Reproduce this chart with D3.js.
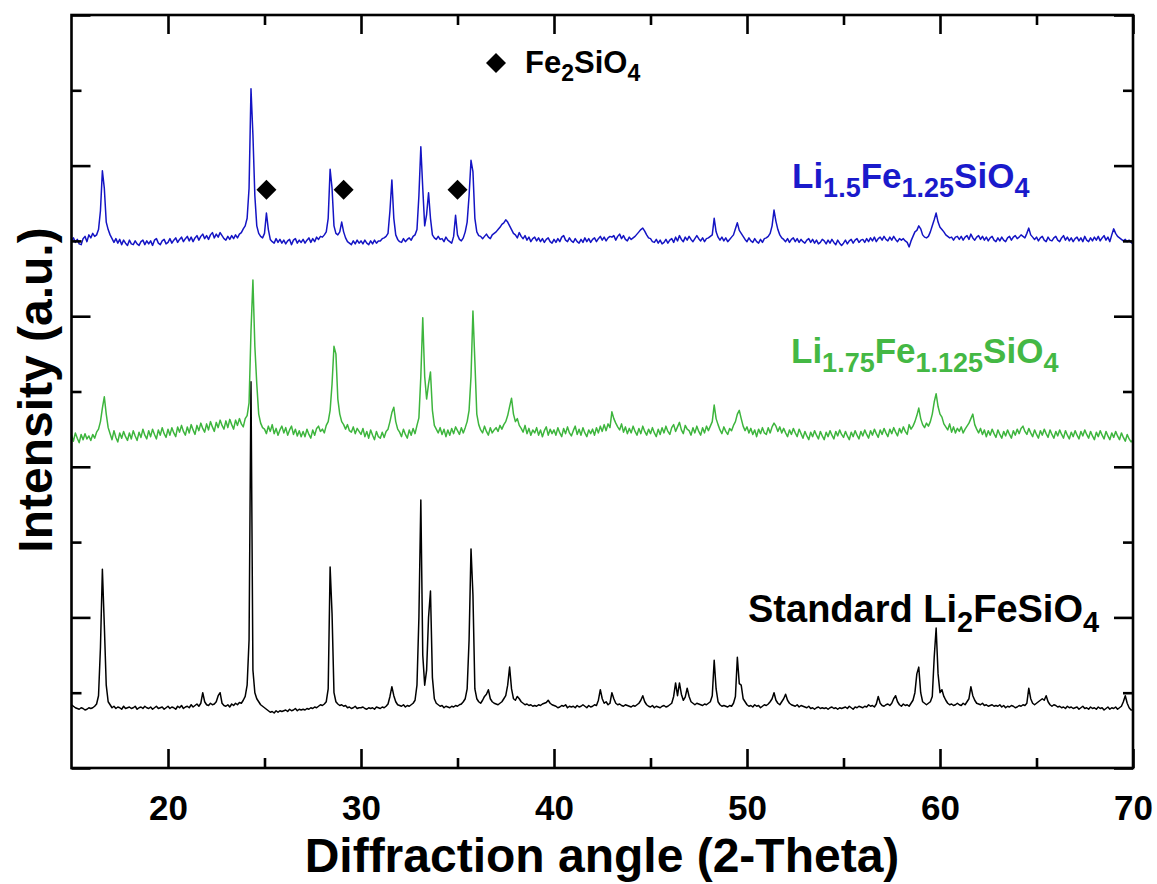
<!DOCTYPE html>
<html>
<head>
<meta charset="utf-8">
<script src="https://cdn.jsdelivr.net/npm/d3@7"></script>
<style>
  body { margin: 0; background: #fff; }
  svg text { font-family: "Liberation Sans", Arial, Helvetica, sans-serif; font-weight: bold; }
</style>
</head>
<body>
<svg id="chart" width="1157" height="884"></svg>
<script>
// XRD patterns, intensities sampled every 0.1 degree (2-theta) from 15 to 70
const thetaStart = 15;
const thetaStep = 0.1;

const xTicksMajor = [20, 30, 40, 50, 60, 70];
const xTicksMinor = [25, 35, 45, 55, 65];
const yTicksMajor = [0, 200, 400, 600, 800, 1000];
const yTicksMinor = [100, 300, 500, 700, 900];

// Standard Li2FeSiO4
const standardCounts = [
  84,82,80,79,78,80,79,77,78,80,
  79,80,82,85,96,160,264,190,110,88,
  84,80,82,79,81,80,78,82,79,80,
  81,79,80,82,78,80,81,79,82,80,
  79,81,78,80,82,79,80,81,78,80,
  82,79,81,80,78,82,80,83,79,81,
  82,80,84,81,83,85,82,86,100,88,
  84,83,86,84,85,88,96,100,86,83,
  82,84,81,85,83,86,84,87,86,90,
  95,110,170,513,130,100,92,88,84,82,
  80,78,76,74,75,73,76,74,76,75,
  76,77,75,78,76,77,79,76,78,77,
  78,77,79,78,80,79,81,80,82,84,
  83,85,88,105,267,205,100,88,85,83,
  84,82,83,80,81,79,80,82,79,80,
  80,81,79,78,80,79,80,78,81,80,
  79,81,80,82,85,95,108,96,88,84,
  83,82,84,81,83,82,84,86,90,110,
  200,356,150,110,130,200,235,120,92,86,
  84,82,83,80,82,81,80,82,81,83,
  82,84,85,88,92,105,170,291,230,105,
  92,88,86,90,95,98,104,92,88,86,
  85,84,86,88,92,96,110,134,105,92,
  90,95,92,88,86,84,85,83,84,82,
  83,82,84,83,85,86,87,90,86,84,
  83,82,80,81,83,82,84,80,82,81,
  82,80,83,81,82,84,82,80,83,81,
  82,84,83,90,104,92,86,88,84,86,
  100,92,86,84,85,83,82,84,83,82,
  81,83,82,84,86,90,96,88,84,82,
  81,83,80,82,81,80,82,83,81,82,
  84,86,95,113,96,113,98,90,94,106,
  95,88,86,84,86,85,84,83,85,84,
  86,88,96,143,105,88,84,82,83,82,
  81,83,82,86,95,147,112,110,92,88,
  84,82,83,81,84,82,83,80,82,84,
  83,85,88,92,100,90,86,84,88,92,
  98,90,86,84,83,82,84,81,83,82,
  81,80,82,79,80,78,80,81,79,80,
  79,80,78,80,81,79,80,78,80,79,
  80,81,79,82,80,78,81,80,82,81,
  80,82,81,84,82,83,81,85,95,86,
  83,82,84,85,83,86,92,96,88,84,
  82,85,83,84,82,86,90,100,125,134,
  100,88,86,84,86,88,95,147,186,125,
  100,104,95,90,86,84,85,83,84,86,
  84,83,86,84,88,92,108,96,90,86,
  85,84,86,83,84,82,83,84,82,83,
  82,84,81,83,80,82,81,83,82,80,
  81,83,82,84,83,86,106,92,86,84,
  86,88,90,92,90,96,88,84,82,84,
  83,81,82,80,81,79,82,80,81,79,
  80,81,78,80,82,79,80,78,81,79,
  80,78,81,79,80,77,79,81,78,80,
  79,81,78,80,82,88,96,86,80,77,
  77
];

// Li1.75Fe1.125SiO4
const li175Counts = [
  82,74,85,78,72,83,76,84,77,81,
  75,83,78,86,90,100,118,133,110,92,
  84,76,88,79,73,85,78,87,80,75,
  85,77,88,81,75,86,79,90,82,77,
  88,80,90,83,77,89,82,92,84,79,
  90,82,92,85,80,93,86,95,87,82,
  93,85,96,89,83,95,88,98,91,86,
  97,89,100,93,87,99,92,102,95,90,
  101,92,103,96,90,102,95,104,97,93,
  104,108,125,220,288,200,150,110,98,92,
  90,84,94,87,96,84,91,82,89,94,
  85,92,82,89,94,83,90,81,88,80,
  87,80,90,83,78,89,82,91,94,87,
  90,85,95,100,115,150,200,190,130,110,
  100,96,90,96,88,86,93,84,91,87,
  83,91,80,87,78,89,82,76,87,80,
  78,86,79,87,90,100,112,119,100,90,
  86,80,90,83,78,89,82,91,84,95,
  105,160,238,160,130,150,166,115,95,90,
  85,92,83,90,80,89,82,91,84,93,
  88,83,92,85,92,100,115,160,247,180,
  110,96,89,85,94,87,82,92,85,89,
  92,87,95,90,96,100,108,120,131,110,
  100,104,95,91,86,95,84,91,82,89,
  85,92,82,89,80,88,93,82,90,84,
  89,82,92,85,80,91,84,93,85,81,
  88,94,83,90,82,92,85,80,89,84,
  90,82,92,85,94,87,96,88,97,92,
  113,104,98,93,89,97,86,93,84,91,
  85,94,87,82,91,84,94,87,82,90,
  84,92,85,80,90,83,92,85,94,87,
  83,92,96,87,93,99,89,84,95,90,
  88,82,92,85,94,87,82,92,85,94,
  88,94,100,122,104,96,89,84,93,87,
  83,91,88,95,100,110,115,104,94,88,
  93,85,91,83,89,80,90,84,92,85,
  83,92,85,93,98,94,87,93,85,91,
  85,80,89,83,91,85,80,90,84,78,
  87,81,76,86,80,88,82,77,87,81,
  76,86,80,88,82,77,87,81,89,83,
  79,87,81,76,86,80,88,82,77,87,
  81,89,83,78,88,82,90,84,79,89,
  83,91,85,80,90,84,92,86,81,91,
  85,93,87,83,96,90,94,100,108,118,
  104,96,92,98,94,100,110,126,137,120,
  110,106,97,93,89,97,86,93,85,91,
  87,93,85,90,94,98,104,110,96,90,
  85,91,83,89,80,88,82,90,84,79,
  89,83,78,87,81,89,83,78,88,82,
  90,84,91,94,87,83,91,85,80,89,
  83,78,88,82,90,84,79,89,83,78,
  87,81,89,83,78,88,82,77,86,80,
  88,82,77,87,81,89,83,78,87,81,
  76,86,80,88,82,77,87,81,76,85,
  79,87,81,76,85,79,74,83,77,73,
  76
];

// Li1.5Fe1.25SiO4
const li15Counts = [
  80,84,78,82,76,75,83,86,79,88,
  84,90,86,88,95,120,173,150,105,95,
  88,83,78,83,77,82,75,81,77,74,
  81,76,75,80,76,74,79,81,75,80,
  76,80,74,81,83,77,75,80,82,76,
  78,83,77,81,84,78,82,85,79,83,
  86,80,85,79,84,87,81,86,89,83,
  87,82,88,91,84,89,85,91,87,83,
  81,86,82,87,83,88,84,89,91,96,
  100,110,150,282,221,140,100,90,86,84,
  90,117,95,82,79,77,83,78,82,77,
  81,76,80,82,75,81,83,77,81,78,
  82,77,81,84,78,83,79,85,82,86,
  85,88,92,110,175,150,100,90,88,92,
  105,92,84,79,77,75,80,76,81,77,
  80,76,81,77,75,80,76,81,77,80,
  80,83,84,86,90,120,161,110,88,82,
  79,78,83,79,82,84,81,86,88,95,
  140,205,150,100,115,144,110,88,84,82,
  86,82,83,79,85,81,79,77,86,114,
  88,82,80,84,92,105,140,187,172,110,
  92,87,86,83,86,89,85,83,88,90,
  92,95,98,102,104,108,105,100,95,90,
  88,84,91,86,83,87,81,85,79,83,
  85,80,84,79,83,78,82,84,79,77,
  82,78,83,79,85,87,81,79,84,80,
  78,83,79,77,82,78,84,79,83,78,
  82,84,79,83,86,81,85,80,84,86,
  85,87,81,86,89,83,87,82,80,85,
  82,84,86,89,92,95,97,93,88,84,
  83,79,78,82,77,81,76,78,82,77,
  81,83,78,85,80,87,82,79,85,81,
  86,82,79,83,87,83,80,84,79,83,
  84,86,88,110,92,85,81,85,80,84,
  79,82,85,88,96,104,94,90,86,82,
  79,84,80,78,83,79,77,82,78,83,
  84,86,90,100,121,106,95,88,84,82,
  79,83,78,82,84,79,83,78,82,79,
  77,81,83,78,82,77,81,76,78,82,
  80,76,81,77,82,78,75,81,77,74,
  77,81,76,80,82,77,81,83,78,81,
  82,78,83,79,84,80,85,79,83,85,
  81,86,82,80,85,81,86,82,79,83,
  81,83,80,78,72,80,86,92,94,100,
  96,88,85,84,86,92,100,108,117,105,
  98,95,92,88,86,84,85,81,85,86,
  82,86,81,85,87,82,89,84,81,85,
  87,82,86,81,85,80,84,86,81,79,
  84,80,85,81,79,84,86,81,85,87,
  83,85,88,86,84,90,97,88,85,82,
  85,80,84,86,81,79,85,81,80,84,
  86,81,79,84,87,81,85,80,84,79,
  83,85,80,84,79,86,81,79,84,80,
  85,81,86,80,84,87,81,85,79,88,
  96,90,86,84,82,80,82,79,81,78,
  76
];

// vertical stacking offsets of the three patterns
const seriesOffsets = [0, 360, 620];
const seriesColors = ["#000000", "#3db53d", "#1414c4"];

// Fe2SiO4 impurity reflections marked above the Li1.5Fe1.25SiO4 pattern
const fe2sio4Peaks = [25.1, 29.1, 35.0];
const fe2sio4MarkLevel = 148;

const svg = d3.select("#chart");
const plot = { left: 71.5, right: 1133, top: 15, bottom: 768 };

const x = d3.scaleLinear().domain([15, 70]).range([plot.left, plot.right]);
const y = d3.scaleLinear().domain([0, 1000]).range([plot.bottom, plot.top]);

svg.append("clipPath").attr("id", "plot-clip")
  .append("rect")
  .attr("x", plot.left).attr("y", plot.top)
  .attr("width", plot.right - plot.left).attr("height", plot.bottom - plot.top);

const patterns = [standardCounts, li175Counts, li15Counts].map((counts, k) => ({
  color: seriesColors[k],
  points: counts.map((c, i) => [thetaStart + i * thetaStep, c + seriesOffsets[k]])
}));

const line = d3.line()
  .x(d => x(d[0]))
  .y(d => y(d[1]))
  .curve(d3.curveLinear);

svg.append("g").attr("clip-path", "url(#plot-clip)")
  .selectAll("path")
  .data(patterns)
  .join("path")
  .attr("d", d => line(d.points))
  .attr("fill", "none")
  .attr("stroke", d => d.color)
  .attr("stroke-width", 1.5)
  .attr("stroke-linejoin", "round");

// diamond markers
const diamond = d3.symbol().type(d3.symbolSquare).size(200);
svg.append("g").selectAll("path")
  .data(fe2sio4Peaks)
  .join("path")
  .attr("d", diamond)
  .attr("transform", d => `translate(${x(d)},${y(fe2sio4MarkLevel + seriesOffsets[2])}) rotate(45)`)
  .attr("fill", "#000");

// axes: ticks point inward on all four sides
function styleAxis(g) {
  g.select(".domain").remove();
  g.selectAll(".tick line").attr("stroke", "#000").attr("stroke-width", 2.6);
  g.attr("font-family", null).attr("font-size", 35);
  g.selectAll(".tick text").attr("fill", "#000");
}

svg.append("g").attr("transform", `translate(0,${plot.bottom})`)
  .call(d3.axisBottom(x).tickValues(xTicksMajor).tickSize(-19).tickPadding(27).tickFormat(d3.format("d")))
  .call(styleAxis);
svg.append("g").attr("transform", `translate(0,${plot.bottom})`)
  .call(d3.axisBottom(x).tickValues(xTicksMinor).tickSize(-10).tickFormat(""))
  .call(styleAxis);
svg.append("g").attr("transform", `translate(0,${plot.top})`)
  .call(d3.axisTop(x).tickValues(xTicksMajor).tickSize(-19).tickFormat(""))
  .call(styleAxis);
svg.append("g").attr("transform", `translate(0,${plot.top})`)
  .call(d3.axisTop(x).tickValues(xTicksMinor).tickSize(-10).tickFormat(""))
  .call(styleAxis);
svg.append("g").attr("transform", `translate(${plot.left},0)`)
  .call(d3.axisLeft(y).tickValues(yTicksMajor).tickSize(-19).tickFormat(""))
  .call(styleAxis);
svg.append("g").attr("transform", `translate(${plot.left},0)`)
  .call(d3.axisLeft(y).tickValues(yTicksMinor).tickSize(-10).tickFormat(""))
  .call(styleAxis);
svg.append("g").attr("transform", `translate(${plot.right},0)`)
  .call(d3.axisRight(y).tickValues(yTicksMajor).tickSize(-19).tickFormat(""))
  .call(styleAxis);
svg.append("g").attr("transform", `translate(${plot.right},0)`)
  .call(d3.axisRight(y).tickValues(yTicksMinor).tickSize(-10).tickFormat(""))
  .call(styleAxis);

svg.append("rect")
  .attr("x", plot.left).attr("y", plot.top)
  .attr("width", plot.right - plot.left).attr("height", plot.bottom - plot.top)
  .attr("fill", "none").attr("stroke", "#000").attr("stroke-width", 2.6);

// axis titles
svg.append("text")
  .attr("x", 602).attr("y", 872)
  .attr("text-anchor", "middle")
  .attr("font-size", 48)
  .attr("fill", "#000")
  .text("Diffraction angle (2-Theta)");

svg.append("text")
  .attr("transform", "translate(52,390) rotate(-90)")
  .attr("text-anchor", "middle")
  .attr("font-size", 48)
  .attr("fill", "#000")
  .text("Intensity (a.u.)");

// chemical formula labels with subscripts
function formula(px, py, parts, size, subSize, shift, color) {
  const t = svg.append("text")
    .attr("x", px).attr("y", py)
    .attr("font-size", size)
    .attr("fill", color);
  let down = false;
  parts.forEach(([txt, sub]) => {
    const s = t.append("tspan").text(txt);
    if (sub && !down) { s.attr("dy", shift).attr("font-size", subSize); down = true; }
    else if (sub) { s.attr("font-size", subSize); }
    else if (down) { s.attr("dy", -shift); down = false; }
  });
  return t;
}

formula(792, 188, [["Li", 0], ["1.5", 1], ["Fe", 0], ["1.25", 1], ["SiO", 0], ["4", 1]], 35, 27, 9, "#1a1acb");
formula(791, 363, [["Li", 0], ["1.75", 1], ["Fe", 0], ["1.125", 1], ["SiO", 0], ["4", 1]], 35, 27, 9, "#44b844");
formula(748, 622, [["Standard Li", 0], ["2", 1], ["FeSiO", 0], ["4", 1]], 38, 29, 10, "#000");

// legend for the impurity marker
svg.append("path")
  .attr("d", diamond)
  .attr("transform", `translate(496,63) rotate(45)`)
  .attr("fill", "#000");
formula(525, 73, [["Fe", 0], ["2", 1], ["SiO", 0], ["4", 1]], 31, 23, 8, "#000");
</script>
</body>
</html>
